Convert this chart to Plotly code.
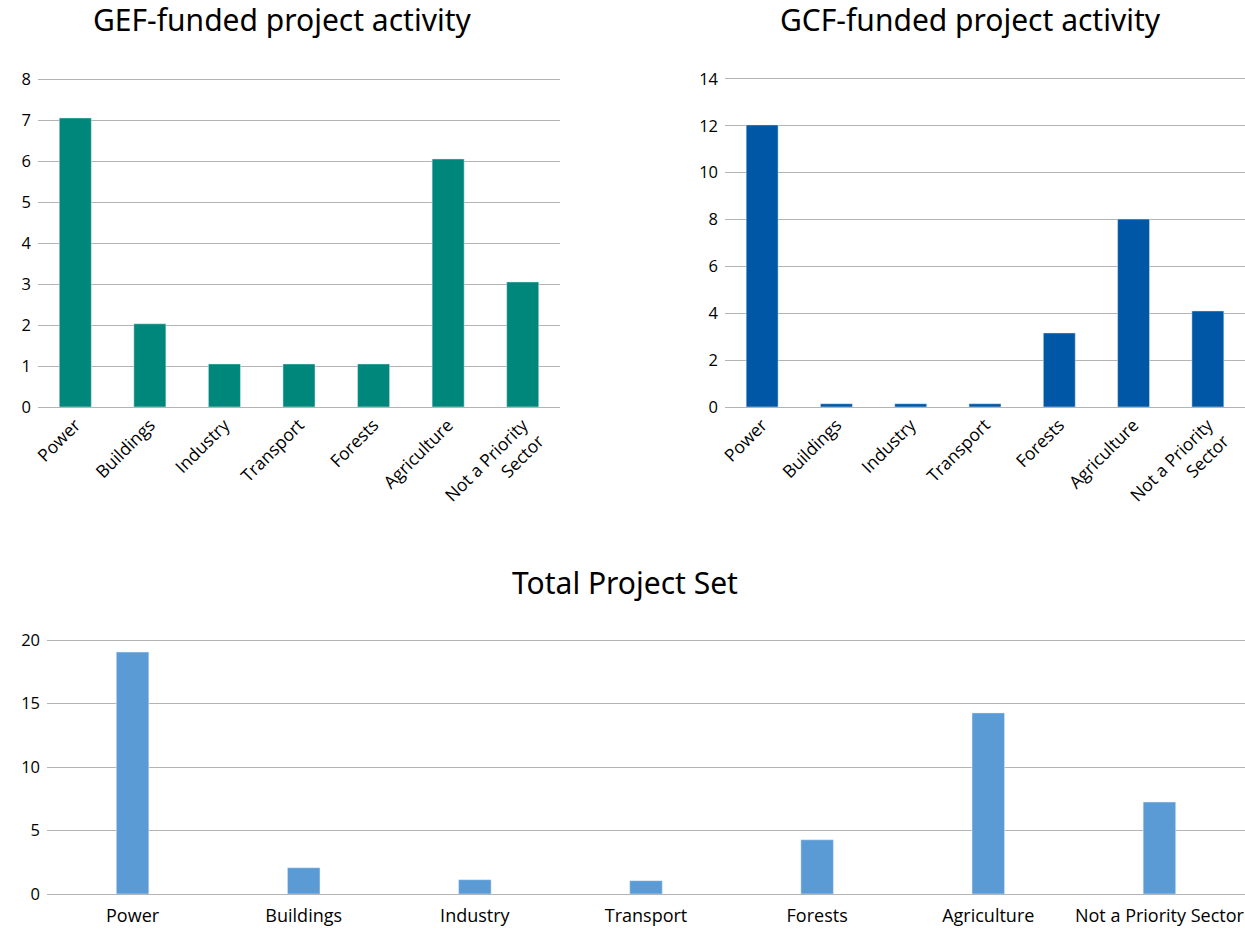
import plotly.graph_objects as go

categories = ["Power", "Buildings", "Industry", "Transport", "Forests", "Agriculture", "Not a Priority Sector"]
categories_wrapped = ["Power", "Buildings", "Industry", "Transport", "Forests", "Agriculture", "Not a Priority<br>Sector"]
gef_values = [7.05, 2.03, 1.05, 1.05, 1.05, 6.05, 3.05]
gcf_values = [12.04, 0.14, 0.14, 0.14, 3.16, 8.02, 4.1]
total_values = [19.05, 2.07, 1.13, 1.05, 4.27, 14.26, 7.24]

W, H = 1245, 932
def fx(px): return max(0.0, min(1.0, px / W))
def fy(py): return 1 - py / H

fig = go.Figure()
fig.add_trace(go.Bar(x=categories_wrapped, y=gef_values, marker_color="#00877C", xaxis="x", yaxis="y", showlegend=False, width=0.43))
fig.add_trace(go.Bar(x=categories_wrapped, y=gcf_values, marker_color="#0057A6", xaxis="x2", yaxis="y2", showlegend=False, width=0.43))
fig.add_trace(go.Bar(x=categories, y=total_values, marker_color="#5B9BD5", xaxis="x3", yaxis="y3", showlegend=False, width=0.19))

grid = "#B4B4B4"
tickfont = dict(family="Open Sans, sans-serif", size=17.5, color="#000000")
yfont = dict(family="Open Sans, sans-serif", size=16.5, color="#000000")
bottomfont = dict(family="Open Sans, sans-serif", size=18, color="#000000")
titlefont = dict(family="Noto Sans, sans-serif", size=30, color="#000000")

common_x = dict(showgrid=False, showline=True, linecolor=grid, linewidth=1, ticks="", tickangle=-45, automargin=False)
common_y = dict(showgrid=True, gridcolor=grid, gridwidth=1, zeroline=False, showline=False, ticks="",
                automargin=False, ticklabelstandoff=6)

fig.update_layout(
    width=W, height=H,
    margin=dict(l=0, r=0, t=0, b=0, autoexpand=False),
    paper_bgcolor="white", plot_bgcolor="white",
    xaxis=dict(domain=[fx(38), fx(560)], anchor="y", tickfont=tickfont, **common_x),
    yaxis=dict(domain=[fy(407), fy(74.9)], anchor="x", range=[0, 8.1], tickvals=[0, 1, 2, 3, 4, 5, 6, 7, 8], tickfont=yfont, **common_y),
    xaxis2=dict(domain=[fx(725), fx(1245)], anchor="y2", tickfont=tickfont, **common_x),
    yaxis2=dict(domain=[fy(407), fy(74.3)], anchor="x2", range=[0, 14.2], tickvals=[0, 2, 4, 6, 8, 10, 12, 14], tickfont=yfont, **common_y),
    xaxis3=dict(domain=[fx(47), fx(1245)], anchor="y3", showgrid=False, showline=True, linecolor=grid, ticks="",
                tickangle=0, tickfont=bottomfont, automargin=False, ticklabelstandoff=5),
    yaxis3=dict(domain=[fy(894), fy(636.2)], anchor="x3", range=[0, 20.3], tickvals=[0, 5, 10, 15, 20], tickfont=yfont, **common_y),
    annotations=[
        dict(text="GEF-funded project activity", x=fx(282), y=fy(20), xref="paper", yref="paper", showarrow=False,
             font=titlefont, xanchor="center", yanchor="middle"),
        dict(text="GCF-funded project activity", x=fx(970), y=fy(20), xref="paper", yref="paper", showarrow=False,
             font=titlefont, xanchor="center", yanchor="middle"),
        dict(text="Total Project Set", x=fx(625), y=fy(582), xref="paper", yref="paper", showarrow=False,
             font=titlefont, xanchor="center", yanchor="middle"),
    ],
)

fig.write_html("out.html", config={"displayModeBar": False},
               post_script="document.body.style.margin='0';document.body.style.overflow='hidden';")
